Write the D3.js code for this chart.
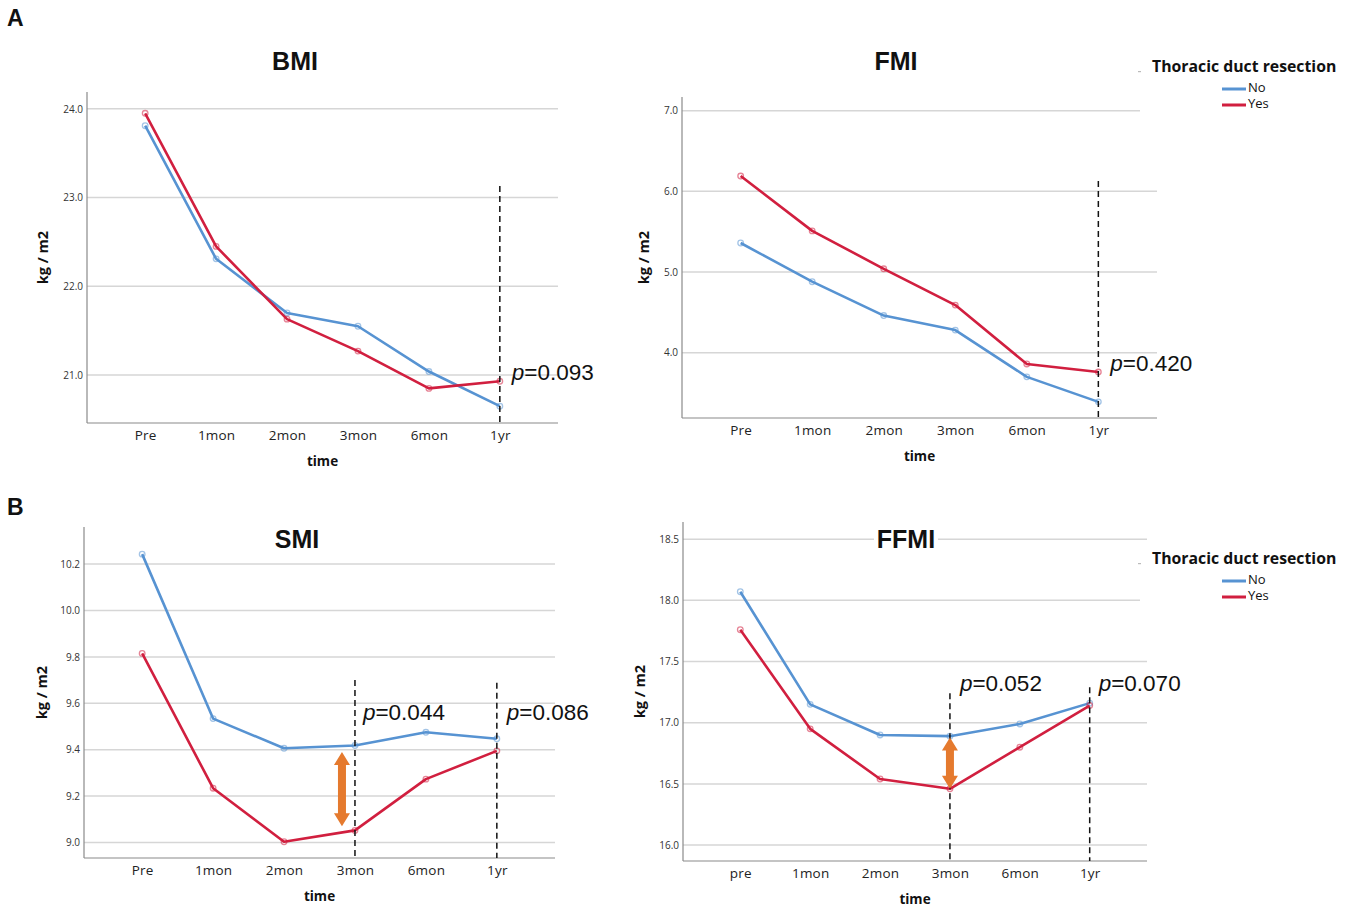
<!DOCTYPE html>
<html>
<head>
<meta charset="utf-8">
<script src="https://cdn.jsdelivr.net/npm/d3@7"></script>
<style>
  body { margin: 0; background: #fff; }
  svg text { fill: #111; }
  .ytick { font-family: "Open Sans", sans-serif; font-size: 10px; fill: #333; }
  .xtick { font-family: "Open Sans", sans-serif; font-size: 13.5px; fill: #222; letter-spacing: 0.2px; }
  .axtitle { font-family: "Open Sans", sans-serif; font-size: 13.5px; font-weight: bold; }
  .ptitle { font-family: "Liberation Sans", Arial, sans-serif; font-size: 25px; font-weight: bold; }
  .pval { font-family: "Liberation Sans", Arial, sans-serif; font-size: 22.5px; }
  .legtitle { font-family: "Open Sans", sans-serif; font-size: 15.8px; font-weight: bold; }
  .legitem { font-family: "Open Sans", sans-serif; font-size: 13px; }
</style>
</head>
<body>
<svg id="chart" width="1354" height="908"></svg>
<script>
// time points
var times = ["Pre", "1mon", "2mon", "3mon", "6mon", "1yr"];
var timesFFMI = ["pre", "1mon", "2mon", "3mon", "6mon", "1yr"];

// series values (No = blue, Yes = red)
var bmiNo  = [23.81, 22.31, 21.70, 21.55, 21.04, 20.65];
var bmiYes = [23.95, 22.45, 21.63, 21.27, 20.85, 20.93];
var fmiNo  = [5.36, 4.88, 4.46, 4.28, 3.70, 3.39];
var fmiYes = [6.19, 5.51, 5.04, 4.59, 3.86, 3.76];
var smiNo  = [10.243, 9.534, 9.406, 9.418, 9.475, 9.447];
var smiYes = [9.815, 9.234, 9.003, 9.052, 9.273, 9.395];
var ffmiNo  = [18.07, 17.15, 16.90, 16.89, 16.99, 17.16];
var ffmiYes = [17.76, 16.95, 16.54, 16.46, 16.80, 17.14];

// y ticks and axis extents
var bmiTicks = [21.0, 22.0, 23.0, 24.0];
var fmiTicks = [4.0, 5.0, 6.0, 7.0];
var smiTicks = [9.0, 9.2, 9.4, 9.6, 9.8, 10.0, 10.2];
var ffmiTicks = [16.0, 16.5, 17.0, 17.5, 18.0, 18.5];
var bmiDomain = [20.46, 24.19];
var fmiDomain = [3.19, 7.17];
var smiDomain = [8.933, 10.36];
var ffmiDomain = [15.87, 18.64];

// significance annotations: dashed line top value, p label
var bmiP  = [{at: "1yr", top: 23.13, label: "0.093", ly: 20.945, dx: 12}];
var fmiP  = [{at: "1yr", top: 6.13, label: "0.420", ly: 3.77, dx: 12}];
var smiP  = [{at: "3mon", top: 9.70, label: "0.044", ly: 9.528, dx: 8},
             {at: "1yr", top: 9.688, label: "0.086", ly: 9.528, dx: 10}];
var ffmiP = [{at: "3mon", top: 17.24, label: "0.052", ly: 17.256, dx: 10},
             {at: "1yr", top: 17.29, label: "0.070", ly: 17.256, dx: 9}];

// orange double arrows [from, to]
var smiArrow = {at: "3mon", from: 9.39, to: 9.07};
var ffmiArrow = {at: "3mon", from: 16.88, to: 16.46};

var groups = ["No", "Yes"];
var colNo = "#5793d2", colYes = "#d11f3f";

var svg = d3.select("#chart");

var panels = [
  {title: "BMI", cats: times, no: bmiNo, yes: bmiYes, ticks: bmiTicks, domain: bmiDomain, p: bmiP,
   x0: 87, x1: 558, yTop: 92, yBot: 423, titleX: 295, titleY: 63, ylabX: 44},
  {title: "FMI", cats: times, no: fmiNo, yes: fmiYes, ticks: fmiTicks, domain: fmiDomain, p: fmiP,
   x0: 682, x1: 1157, yTop: 97, yBot: 418, titleX: 896, titleY: 63, ylabX: 645, legendY: 67},
  {title: "SMI", cats: times, no: smiNo, yes: smiYes, ticks: smiTicks, domain: smiDomain, p: smiP,
   x0: 84, x1: 555, yTop: 527, yBot: 858, titleX: 297, titleY: 541, ylabX: 43, arrow: smiArrow, arrowDx: -13},
  {title: "FFMI", cats: timesFFMI, no: ffmiNo, yes: ffmiYes, ticks: ffmiTicks, domain: ffmiDomain, p: ffmiP,
   x0: 683, x1: 1147, yTop: 522, yBot: 861, titleX: 906, titleY: 541, ylabX: 641, arrow: ffmiArrow, arrowDx: 0,
   legendY: 559, titleBg: true}
];

panels.forEach(drawPanel);

// panel letters
svg.append("text").attr("class", "ptitle").attr("x", 7).attr("y", 26).style("font-size", "23px").text("A");
svg.append("text").attr("class", "ptitle").attr("x", 7).attr("y", 515).style("font-size", "23px").text("B");

function drawPanel(p) {
  var g = svg.append("g");
  var x = d3.scalePoint().domain(p.cats).range([p.x0, p.x1]).padding(0.82);
  var y = d3.scaleLinear().domain(p.domain).range([p.yBot, p.yTop]);

  // grid
  g.selectAll(".grid").data(p.ticks).enter().append("line")
    .attr("x1", p.x0).attr("x2", p.x1)
    .attr("y1", function(d) { return y(d); }).attr("y2", function(d) { return y(d); })
    .attr("stroke", "#d6d6d6").attr("stroke-width", 1.5);

  // axes
  var ay = g.append("g").attr("transform", "translate(" + p.x0 + ",0)")
    .call(d3.axisLeft(y).tickValues(p.ticks).tickSize(0).tickPadding(4).tickFormat(d3.format(".1f")));
  ay.select(".domain").remove();
  ay.selectAll("text").attr("class", "ytick");

  var ax = g.append("g").attr("transform", "translate(0," + p.yBot + ")")
    .call(d3.axisBottom(x).tickSize(0).tickPadding(7));
  ax.select(".domain").remove();
  ax.selectAll("text").attr("class", "xtick");

  g.append("line").attr("x1", p.x0).attr("x2", p.x0).attr("y1", p.yTop).attr("y2", p.yBot)
    .attr("stroke", "#8a8a8a").attr("stroke-width", 1.2);
  g.append("line").attr("x1", p.x0).attr("x2", p.x1).attr("y1", p.yBot).attr("y2", p.yBot)
    .attr("stroke", "#8a8a8a").attr("stroke-width", 1.2);

  // axis titles
  g.append("text").attr("class", "axtitle").style("font-size", "14.5px")
    .attr("transform", "translate(" + p.ylabX + "," + ((p.yTop + p.yBot) / 2) + ") rotate(-90)")
    .attr("text-anchor", "middle").attr("dominant-baseline", "middle")
    .text("kg / m2");
  g.append("text").attr("class", "axtitle")
    .attr("x", (p.x0 + p.x1) / 2).attr("y", p.yBot + 43)
    .attr("text-anchor", "middle").text("time");

  // title
  if (p.titleBg) {
    g.append("rect").attr("x", p.titleX - 32).attr("y", p.titleY - 12).attr("width", 64).attr("height", 24).attr("fill", "#fff");
  }
  g.append("text").attr("class", "ptitle").attr("x", p.titleX).attr("y", p.titleY)
    .attr("text-anchor", "middle").attr("dominant-baseline", "middle").text(p.title);

  // lines
  var line = d3.line()
    .x(function(d, i) { return x(p.cats[i]); })
    .y(function(d) { return y(d); });

  [[p.no, colNo], [p.yes, colYes]].forEach(function(s) {
    g.append("path").datum(s[0]).attr("d", line)
      .attr("fill", "none").attr("stroke", s[1]).attr("stroke-width", 2.6)
      .attr("stroke-linejoin", "round");
    g.selectAll(null).data(s[0]).enter().append("circle")
      .attr("cx", function(d, i) { return x(p.cats[i]); })
      .attr("cy", function(d) { return y(d); })
      .attr("r", 2.8)
      .attr("fill", "none").attr("stroke", s[1]).attr("stroke-opacity", 0.55).attr("stroke-width", 1.3);
  });

  // dashed lines and p labels
  p.p.forEach(function(a) {
    var xc = x(a.at);
    g.append("line").attr("x1", xc).attr("x2", xc).attr("y1", y(a.top)).attr("y2", p.yBot)
      .attr("stroke", "#111").attr("stroke-width", 1.5).attr("stroke-dasharray", "6,4");
    var t = g.append("text").attr("class", "pval").attr("x", xc + a.dx).attr("y", y(a.ly));
    t.append("tspan").style("font-style", "italic").text("p");
    t.append("tspan").text("=" + a.label);
  });

  // orange arrow
  if (p.arrow) {
    var xa = x(p.arrow.at) + p.arrowDx;
    var yt = y(p.arrow.from), yb = y(p.arrow.to);
    var sw = 4, hw = 8, hl = 13;
    var pts = [[xa, yt], [xa + hw, yt + hl], [xa + sw, yt + hl], [xa + sw, yb - hl], [xa + hw, yb - hl],
               [xa, yb], [xa - hw, yb - hl], [xa - sw, yb - hl], [xa - sw, yt + hl], [xa - hw, yt + hl]];
    g.append("path").attr("d", d3.line()(pts) + "Z").attr("fill", "#e57a2e");
  }

  // legend
  if (p.legendY) {
    var ly = p.legendY;
    g.append("rect").attr("x", 1140).attr("y", ly - 18).attr("width", 214).attr("height", 66).attr("fill", "#fff");
    g.append("rect").attr("x", 1138).attr("y", ly + 4).attr("width", 3).attr("height", 1.2).attr("fill", "#bbb");
    g.append("text").attr("class", "legtitle").attr("x", 1152).attr("y", ly + 1)
      .attr("dominant-baseline", "middle").text("Thoracic duct resection");
    groups.forEach(function(name, i) {
      var yy = ly + 22 + i * 16;
      g.append("line").attr("x1", 1222).attr("x2", 1246).attr("y1", yy).attr("y2", yy)
        .attr("stroke", i === 0 ? colNo : colYes).attr("stroke-width", 3);
      g.append("text").attr("class", "legitem").attr("x", 1248).attr("y", yy)
        .attr("dominant-baseline", "middle").text(name);
    });
  }
}
</script>
</body>
</html>
